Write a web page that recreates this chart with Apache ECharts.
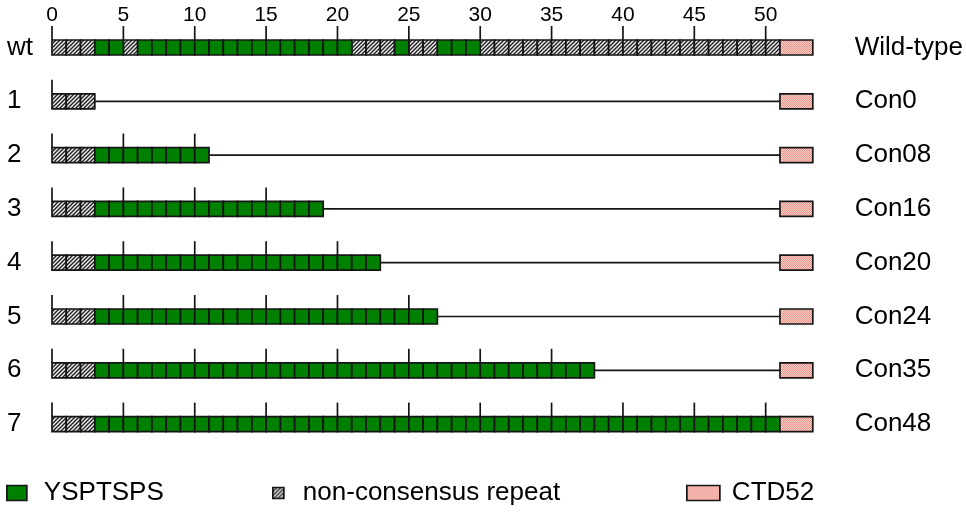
<!DOCTYPE html>
<html>
<head>
<meta charset="utf-8">
<script src="https://cdn.jsdelivr.net/npm/echarts@6/dist/echarts.min.js"></script>
<style>
  html, body { margin: 0; padding: 0; background: #fff; }
  #chart { width: 966px; height: 512px; }
</style>
</head>
<body>
<div id="chart"></div>
<script>
// Row labels (left) and construct names (right), top to bottom
const rowLabels = ['wt', '1', '2', '3', '4', '5', '6', '7'];
const constructNames = ['Wild-type', 'Con0', 'Con08', 'Con16', 'Con20', 'Con24', 'Con35', 'Con48'];

// Wild-type CTD repeat layout: [kind, first repeat, end repeat]; g = consensus, h = non-consensus
const wtSegments = [
  ['h', 0, 3], ['g', 3, 5], ['h', 5, 6], ['g', 6, 21], ['h', 21, 24],
  ['g', 24, 25], ['h', 25, 27], ['g', 27, 30], ['h', 30, 51]
];

// Synthetic constructs: 3 leading non-consensus repeats followed by N consensus repeats
const leadingNonConsensus = 3;
const consensusCounts = [0, 8, 16, 20, 24, 35, 48];

// Final repeat (CTD52) box span
const ctdStart = 51;
const ctdEnd = 53.3;

// Repeat-number scale
const tickStep = 5;
const axisMax = 53.5;

const legendNames = ['YSPTSPS', 'non-consensus repeat', 'CTD52'];

// ---- build series data from the arrays above ----
const greenData = [], hatchData = [], ctdData = [], linkerData = [], tickData = [];

wtSegments.forEach(([kind, s, e]) => {
  (kind === 'g' ? greenData : hatchData).push([s, e, 0]);
});
consensusCounts.forEach((n, i) => {
  const row = i + 1;
  hatchData.push([0, leadingNonConsensus, row]);
  const end = leadingNonConsensus + n;
  if (n > 0) greenData.push([leadingNonConsensus, end, row]);
  if (end < ctdStart) linkerData.push([end, ctdStart, row]);
});
rowLabels.forEach((_, row) => {
  ctdData.push([ctdStart, ctdEnd, row]);
  const end = row === 0 ? ctdStart : leadingNonConsensus + consensusCounts[row - 1];
  for (let t = 0; t <= end; t += tickStep) tickData.push([t, row]);
});

// ---- fill patterns ----
function makeHatch() {
  const c = document.createElement('canvas');
  c.width = 4; c.height = 4;
  const g = c.getContext('2d');
  g.fillStyle = '#ededed';
  g.fillRect(0, 0, 4, 4);
  g.strokeStyle = '#1e1e1e';
  g.lineWidth = 1.35;
  g.beginPath();
  g.moveTo(-1, 5); g.lineTo(5, -1);
  g.moveTo(-1, 1); g.lineTo(1, -1);
  g.moveTo(3, 5); g.lineTo(5, 3);
  g.stroke();
  return { image: c, repeat: 'repeat' };
}
function makeStipple() {
  const c = document.createElement('canvas');
  c.width = 2; c.height = 2;
  const g = c.getContext('2d');
  g.fillStyle = '#fbcfc8'; g.fillRect(0, 0, 2, 2);
  g.fillStyle = '#ee948b'; g.fillRect(0, 0, 1, 1); g.fillRect(1, 1, 1, 1);
  return { image: c, repeat: 'repeat' };
}

const GREEN = '#008000';
const HATCH = makeHatch();
const STIPPLE = makeStipple();
const EDGE = '#151515';
const EDGE_W = 1.7;
const BAR_H = 15;
const TICK_LEN = 14;

// one bordered rect per repeat unit
function unitBlocks(fill) {
  return function (params, api) {
    const s = api.value(0), e = api.value(1), r = api.value(2);
    const children = [];
    for (let k = s; k < e; k++) {
      const p0 = api.coord([k, r]);
      const p1 = api.coord([k + 1, r]);
      children.push({
        type: 'rect',
        shape: { x: p0[0], y: p0[1] - BAR_H / 2, width: p1[0] - p0[0], height: BAR_H },
        style: { fill: fill, stroke: EDGE, lineWidth: EDGE_W }
      });
    }
    return { type: 'group', children };
  };
}
function singleBox(fill) {
  return function (params, api) {
    const p0 = api.coord([api.value(0), api.value(2)]);
    const p1 = api.coord([api.value(1), api.value(2)]);
    return {
      type: 'rect',
      shape: { x: p0[0], y: p0[1] - BAR_H / 2, width: p1[0] - p0[0], height: BAR_H },
      style: { fill: fill, stroke: EDGE, lineWidth: EDGE_W }
    };
  };
}
function linker(params, api) {
  const p0 = api.coord([api.value(0), api.value(2)]);
  const p1 = api.coord([api.value(1), api.value(2)]);
  return {
    type: 'line',
    shape: { x1: p0[0], y1: p0[1], x2: p1[0], y2: p1[1] },
    style: { stroke: EDGE, lineWidth: EDGE_W }
  };
}
function tickMark(params, api) {
  const p = api.coord([api.value(0), api.value(1)]);
  const y0 = p[1] - BAR_H / 2;
  return {
    type: 'line',
    shape: { x1: p[0], y1: y0, x2: p[0], y2: y0 - TICK_LEN },
    style: { stroke: EDGE, lineWidth: EDGE_W }
  };
}

const FONT = 'Liberation Sans, Arial, sans-serif';

const chart = echarts.init(document.getElementById('chart'), null, { renderer: 'canvas' });

const legendBase = {
  orient: 'horizontal',
  icon: 'rect',
  padding: 0,
  top: 480,
  selectedMode: false,
  itemStyle: { borderColor: EDGE, borderWidth: EDGE_W },
  textStyle: { fontFamily: FONT, fontSize: 26, color: '#000', lineHeight: 26 }
};

chart.setOption({
  animation: false,
  backgroundColor: '#fff',
  grid: { left: 52, right: 150, top: 20.6, bottom: 61, containLabel: false },
  xAxis: {
    type: 'value',
    position: 'top',
    min: 0,
    max: axisMax,
    interval: tickStep,
    axisLine: { show: false },
    axisTick: { show: false },
    splitLine: { show: false },
    axisLabel: {
      margin: -5,
      fontFamily: FONT,
      fontSize: 21,
      color: '#000',
      formatter: v => (v % tickStep === 0 ? String(v) : '')
    }
  },
  yAxis: [
    {
      type: 'category',
      data: rowLabels,
      inverse: true,
      position: 'left',
      axisLine: { show: false },
      axisTick: { show: false },
      splitLine: { show: false },
      axisLabel: { align: 'left', margin: 45, fontFamily: FONT, fontSize: 26, color: '#000' }
    },
    {
      type: 'category',
      data: constructNames,
      inverse: true,
      position: 'right',
      axisLine: { show: false },
      axisTick: { show: false },
      splitLine: { show: false },
      axisLabel: { align: 'left', margin: 39, fontFamily: FONT, fontSize: 26, color: '#000' }
    }
  ],
  legend: [
    Object.assign({}, legendBase, {
      data: [legendNames[0]], left: 6, itemWidth: 20, itemHeight: 15,
      textStyle: Object.assign({}, legendBase.textStyle, { padding: [0, 0, 0, 12] })
    }),
    Object.assign({}, legendBase, {
      data: [legendNames[1]], left: 272, itemWidth: 11, itemHeight: 11,
      textStyle: Object.assign({}, legendBase.textStyle, { padding: [0, 0, 0, 14] })
    }),
    Object.assign({}, legendBase, {
      data: [legendNames[2]], left: 686, itemWidth: 33, itemHeight: 15,
      textStyle: Object.assign({}, legendBase.textStyle, { padding: [0, 0, 0, 7] })
    })
  ],
  series: [
    {
      name: 'linker', type: 'custom', renderItem: linker, data: linkerData,
      encode: { x: [0, 1], y: 2 }, silent: true
    },
    {
      name: 'ticks', type: 'custom', renderItem: tickMark, data: tickData,
      encode: { x: 0, y: 1 }, silent: true
    },
    {
      name: legendNames[1], type: 'custom', renderItem: unitBlocks(HATCH), data: hatchData,
      encode: { x: [0, 1], y: 2 },
      itemStyle: { color: HATCH, borderColor: EDGE, borderWidth: EDGE_W }
    },
    {
      name: legendNames[0], type: 'custom', renderItem: unitBlocks(GREEN), data: greenData,
      encode: { x: [0, 1], y: 2 },
      itemStyle: { color: GREEN, borderColor: EDGE, borderWidth: EDGE_W }
    },
    {
      name: legendNames[2], type: 'custom', renderItem: singleBox(STIPPLE), data: ctdData,
      encode: { x: [0, 1], y: 2 },
      itemStyle: { color: STIPPLE, borderColor: EDGE, borderWidth: EDGE_W }
    }
  ]
});
</script>
</body>
</html>
